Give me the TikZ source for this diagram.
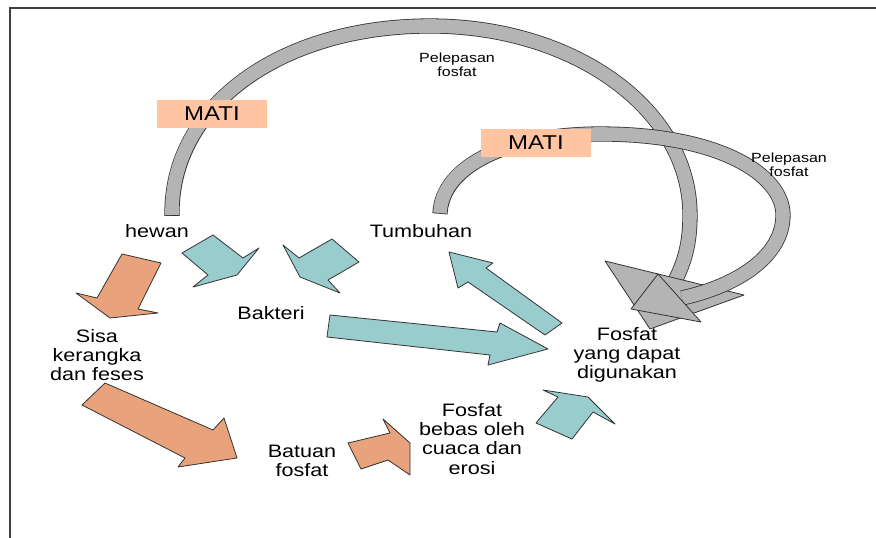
\documentclass[tikz,border=0pt]{standalone}
\usepackage{fontspec}
\setmainfont{Liberation Sans}[FakeStretch=1.2]
\usetikzlibrary{positioning}
\definecolor{TealFill}  {HTML}{99CCCC}
\definecolor{SalmonFill}{HTML}{E8A37D}
\definecolor{MatiFill}  {HTML}{FFC5A2}
\definecolor{ArcGray}   {HTML}{B4B4B4}
\definecolor{EdgeGray}  {HTML}{333333}
\tikzset{
  every node/.style={font=\fontsize{13.5}{14.3}\selectfont, align=center, inner sep=0pt},
  % small labels on the arcs
  note/.style={font=\fontsize{10}{10.6}\selectfont},
  mati/.style={fill=MatiFill, minimum width=82.5pt, minimum height=21pt,
               font=\fontsize{15}{15}\selectfont},
  % block arrows
  tealarr/.style={draw=EdgeGray, fill=TealFill,   line width=0.6pt, line join=round},
  salarr/.style ={draw=EdgeGray, fill=SalmonFill, line width=0.6pt, line join=round},
  headarr/.style={draw=EdgeGray, fill=ArcGray,    line width=0.6pt, line join=round},
  % curved bands
  bandout/.style={draw=EdgeGray, line width=11.4pt, shorten <=-0.6pt},
  bandin/.style ={draw=ArcGray,  line width=10.2pt},
}

\begin{document}
\begin{tikzpicture}[x=0.75pt, y=-0.75pt]
\useasboundingbox (0,0) rectangle (876,538);

% frame
\draw[line width=1.5pt, black!75] (10,538) -- (10,8) -- (876,8);

% big arc: hewan -> fosfat
\foreach \st in {bandout, bandin}
  \draw[\st] (172,215) .. controls (170,105) and (282,26) .. (430,26)
             .. controls (575,26) and (690,110) .. (690,215)
             .. controls (690,245) and (684,262) .. (676,279);
\draw[headarr] (605,261) -- (744,295) -- (650,329) -- cycle;

% small arc: tumbuhan -> fosfat
\foreach \st in {bandout, bandin}
  \draw[\st] (440,213) .. controls (442,165) and (510,134) .. (600,134)
             .. controls (720,134) and (783,175) .. (783,215)
             .. controls (783,255) and (740,285) .. (682,298);
\draw[headarr] (658,274) -- (701,322) -- (631,309) -- cycle;

\node[mati] (mati1) at (212,114) {MATI};
\node[mati] (mati2) at (536,143) {MATI};
\node[note] (lepas1) at (457,65)  {Pelepasan\\fosfat};
\node[note] (lepas2) at (789,165) {Pelepasan\\fosfat};

% teal arrows
\draw[tealarr] (182,253) -- (213,235) -- (243,258) -- (259,248) -- (237,275) -- (193,287) -- (208,275) -- cycle;
\draw[tealarr] (283,245) -- (299,258) -- (332,239) -- (359,262) -- (328,280) -- (340,293) -- (300,277) -- cycle;
\draw[tealarr] (330,315) -- (497,332) -- (500,323) -- (548,349) -- (488,365) -- (490,355) -- (327,337) -- cycle;
\draw[tealarr] (449,252) -- (493,263) -- (486,268) -- (562,323) -- (545,335) -- (468,282) -- (458,288) -- cycle;
\draw[tealarr] (543,390) -- (588,397) -- (615,424) -- (593,412) -- (572,439) -- (536,423) -- (558,397) -- cycle;

% salmon arrows
\draw[salarr] (122,254) -- (161,263) -- (138,309) -- (158,313) -- (110,318) -- (76,293) -- (97,298) -- cycle;
\draw[salarr] (105,383) -- (213,430) -- (224,418) -- (237,458) -- (178,467) -- (185,458) -- (82,405) -- cycle;
\draw[salarr] (348,443) -- (390,433) -- (383,419) -- (410,443) -- (410,475) -- (388,460) -- (361,469) -- cycle;

% labels
\node (hewan)    at (157,231) {hewan};
\node (tumbuhan) at (421,231) {Tumbuhan};
\node (bakteri)  at (271,313) {Bakteri};
\node (sisa)     at (97,355)  {Sisa\\kerangka\\dan feses};
\node (batuan)   at (302,461) {Batuan\\fosfat};
\node (bebas)    at (472,439) {Fosfat\\bebas oleh\\cuaca dan\\erosi};
\node (fosfat)   at (627,355) {Fosfat\\yang dapat\\digunakan};

\end{tikzpicture}
\end{document}
